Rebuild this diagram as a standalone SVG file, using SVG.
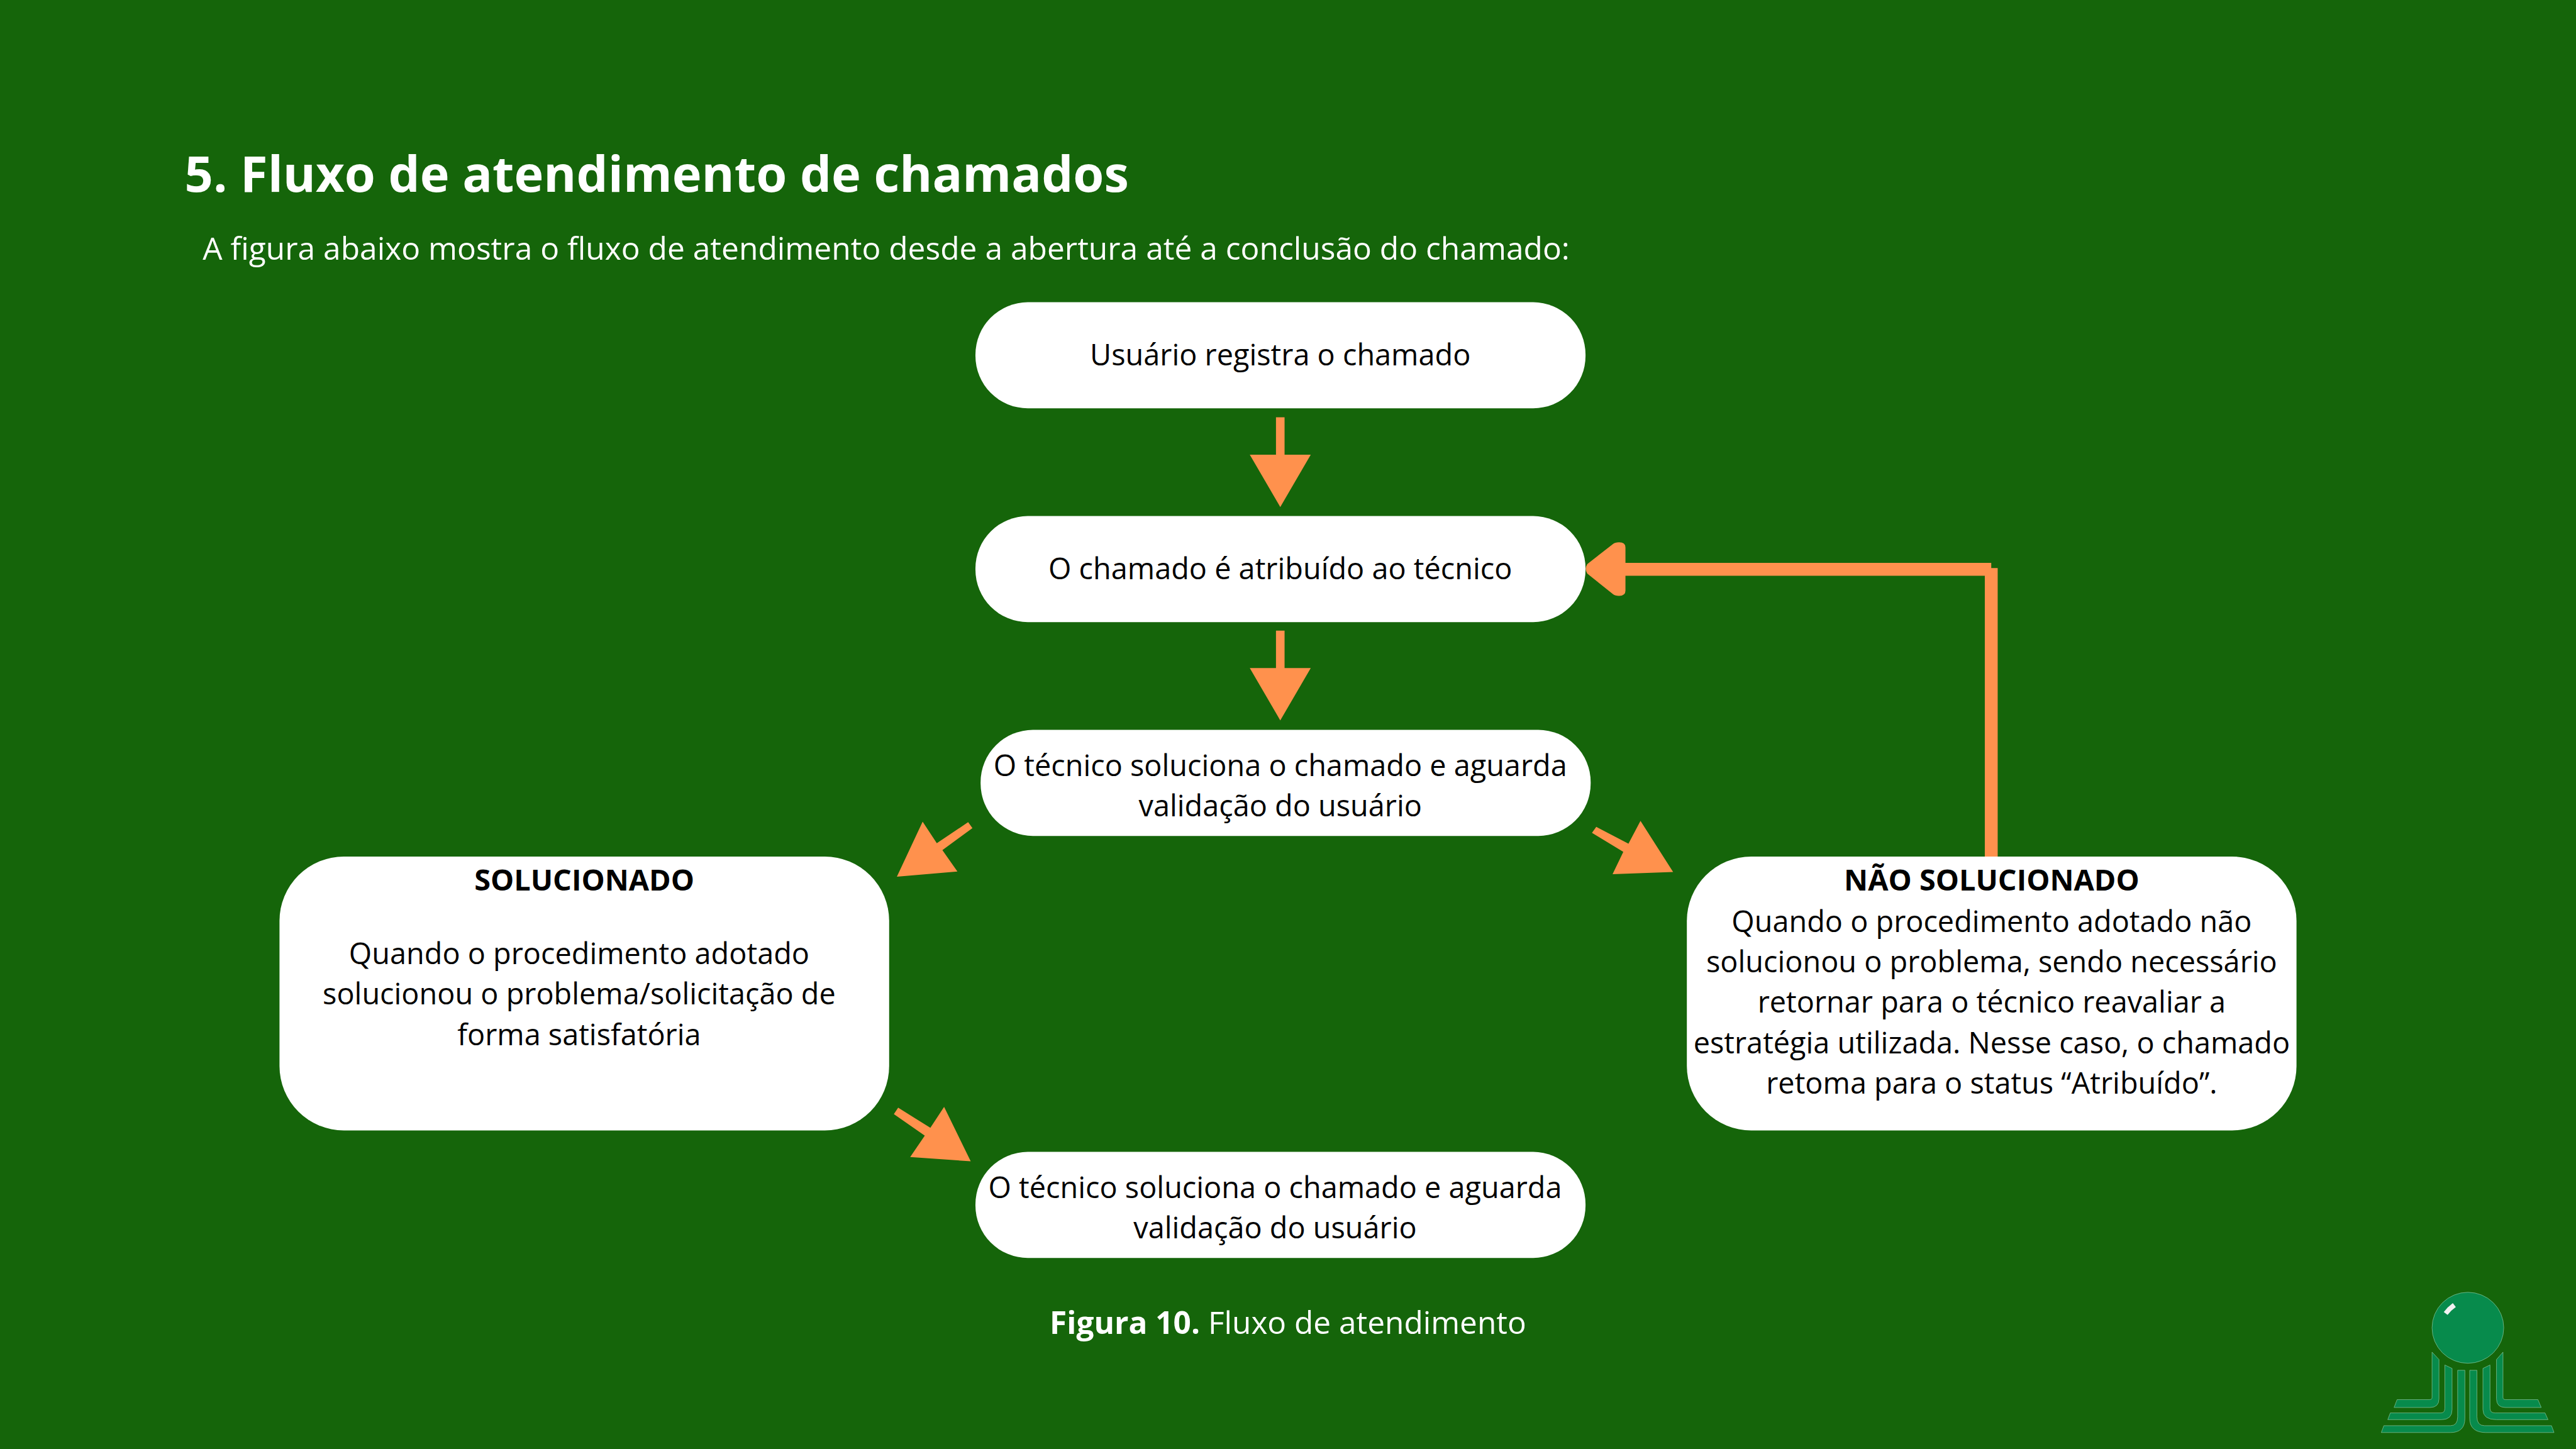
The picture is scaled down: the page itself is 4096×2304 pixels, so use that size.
<svg xmlns="http://www.w3.org/2000/svg" width="4096" height="2304" viewBox="0 0 4096 2304">
<style>
text{font-family:"Open Sans","Noto Sans","Liberation Sans",sans-serif;}
.b{fill:#000;font-size:68.6px;text-anchor:middle}
.h{font-weight:700}
.w{fill:#fff}
.n{fill:#fff}
.a{fill:#ff914d}
.lg{fill:#078b4c;stroke:#8cc79f;stroke-width:3}
</style>
<rect width="4096" height="2304" fill="#15650a"/>
<g transform="scale(0.682667)">
<g id="title"><text class="w h" x="430" y="447" font-size="116.2">5. Fluxo de atendimento de chamados</text></g>
<g id="subtitle"><text class="w" x="472" y="605" font-size="72.8">A figura abaixo mostra o fluxo de atendimento desde a abertura até a conclusão do chamado:</text></g>
<g id="connectors">
<path class="a" d="M2972 972h20v87h61l-71 122-71-122h61z"/>
<path class="a" d="M2972 1469h20v87h61l-71 122-71-122h61z"/>
<path class="a" d="M4638 1311V1323H4653V1995H4623V1341H3786V1376Q3786 1388 3771 1388Q3762 1388 3757 1384L3697 1336Q3690 1325 3697 1314L3757 1267Q3762 1263 3771 1263Q3786 1263 3786 1275V1311Z"/>
<path class="a" d="M2255 1915l10 14-70 51 35 50-141 12 60-128 33 50z"/>
<path class="a" d="M3718 1926l-10 14 73 44-25 52 141-5-76-119-28 53z"/>
<path class="a" d="M2092 2580l-10 15 72 50-34 50 141 10-62-127-32 49z"/>
</g>
<g id="node-registra"><rect class="n" x="2272" y="704" width="1421" height="247" rx="122"/><text class="b" x="2982" y="851">Usuário registra o chamado</text></g>
<g id="node-atribuido"><rect class="n" x="2272" y="1202" width="1421" height="247" rx="122"/><text class="b" x="2982" y="1349">O chamado é atribuído ao técnico</text></g>
<g id="node-soluciona"><rect class="n" x="2284" y="1700" width="1421" height="247" rx="122"/><text class="b" x="2982" y="1807">O técnico soluciona o chamado e aguarda</text><text class="b" x="2982" y="1901">validação do usuário</text></g>
<g id="node-solucionado"><rect class="n" x="651" y="1995" width="1420" height="638" rx="150"/><text class="b h" x="1361" y="2074">SOLUCIONADO</text><text class="b" x="1349" y="2246">Quando o procedimento adotado</text><text class="b" x="1349" y="2340">solucionou o problema/solicitação de</text><text class="b" x="1349" y="2434">forma satisfatória</text></g>
<g id="node-nao-solucionado"><rect class="n" x="3929" y="1995" width="1420" height="638" rx="150"/><text class="b h" x="4639" y="2074">NÃO SOLUCIONADO</text><text class="b" x="4639" y="2171">Quando o procedimento adotado não</text><text class="b" x="4639" y="2265">solucionou o problema, sendo necessário</text><text class="b" x="4639" y="2359">retornar para o técnico reavaliar a</text><text class="b" x="4639" y="2453">estratégia utilizada. Nesse caso, o chamado</text><text class="b" x="4639" y="2547">retoma para o status “Atribuído”.</text></g>
<g id="node-final"><rect class="n" x="2272" y="2683" width="1421" height="247" rx="122"/><text class="b" x="2970" y="2790">O técnico soluciona o chamado e aguarda</text><text class="b" x="2970" y="2884">validação do usuário</text></g>
<g id="caption"><text class="w" x="2445" y="3107" font-size="72.6"><tspan class="h">Figura 10.</tspan> Fluxo de atendimento</text></g>
<g id="logo" transform="translate(5450 2946) scale(.3508 .3333)">
<ellipse class="lg" cx="850" cy="440" rx="238" ry="248"/>
<path fill="#f2f2f2" d="M690 330Q715 295 750 268L770 295Q738 318 715 350Z"/>
</g>
<g id="logo-base" transform="translate(5450 2950) scale(.3508 .3333)">
<path class="lg" d="M612 598L658 650V925Q658 985 598 985H360L380 930H595Q612 930 612 915Z"/>
<path class="lg" d="M697 688L745 712V1000Q745 1070 675 1070H318L335 1023H670Q697 1023 697 990Z"/>
<path class="lg" d="M782 725H830V1060Q830 1160 735 1160H275L292 1112H735Q782 1112 782 1050Z"/>
<path class="lg" d="M910 725H862V1060Q862 1160 970 1160H1422L1405 1112H960Q910 1112 910 1050Z"/>
<path class="lg" d="M997 688L950 712V1000Q950 1070 1040 1070H1382L1362 1023H1030Q997 1023 997 990Z"/>
<path class="lg" d="M1083 598L1040 650V925Q1040 985 1100 985H1337L1315 930H1100Q1083 930 1083 915Z"/>
</g>
</g>
</svg>
